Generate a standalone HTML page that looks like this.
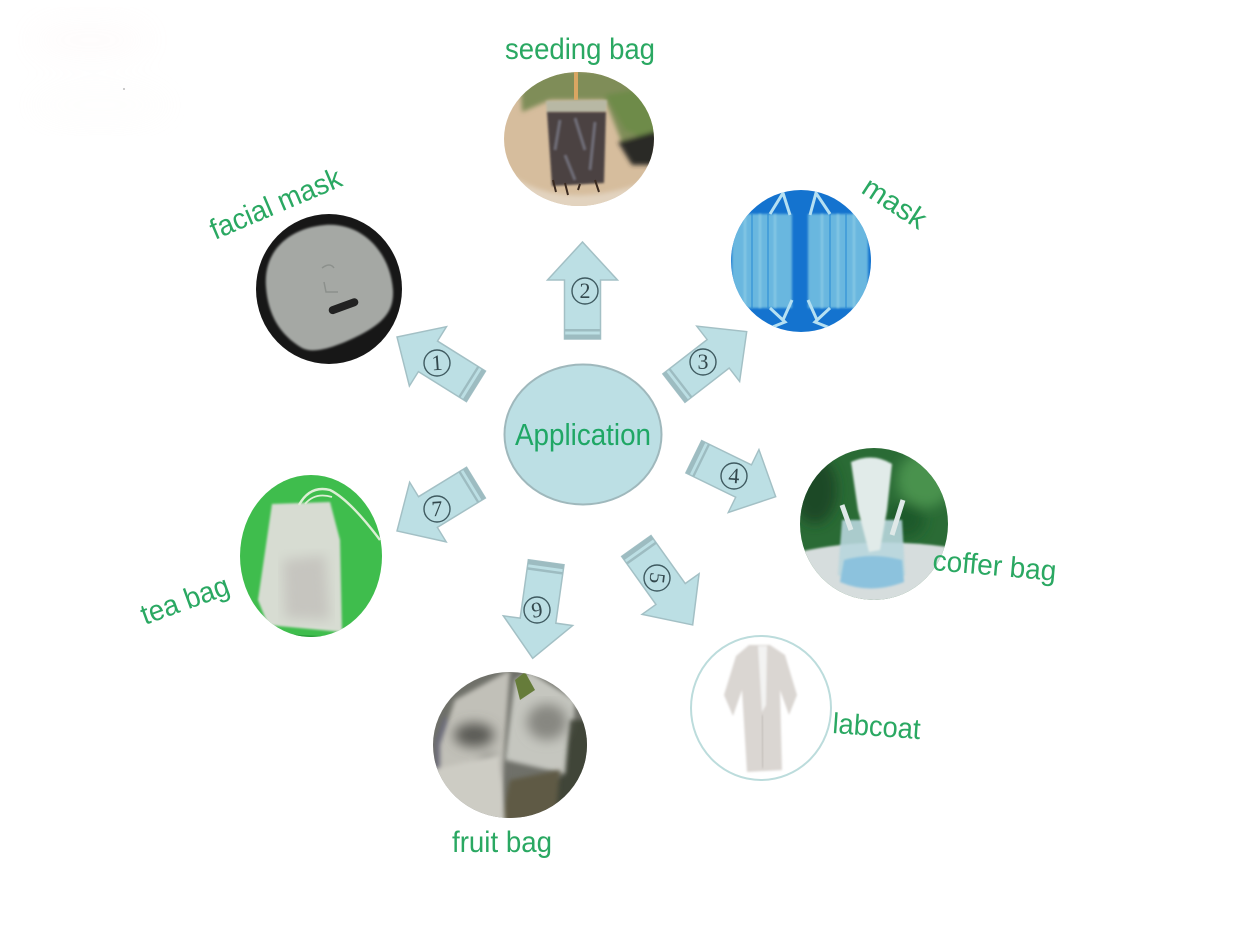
<!DOCTYPE html>
<html><head><meta charset="utf-8"><style>
html,body{margin:0;padding:0;background:#fff;width:1240px;height:932px;overflow:hidden}
svg{display:block}
.l{font-family:"Liberation Sans",sans-serif;fill:#2aa862}
.n{font-family:"Liberation Serif",serif;font-size:22px;fill:#33484d;text-anchor:middle}
.c{fill:none;stroke:#3f5a60;stroke-width:1.4}
</style></head><body>
<svg width="1240" height="932" viewBox="0 0 1240 932" xmlns="http://www.w3.org/2000/svg">
<defs>
<filter id="b1"><feGaussianBlur stdDeviation="1"/></filter>
<filter id="b2"><feGaussianBlur stdDeviation="2.5"/></filter>
<filter id="b6"><feGaussianBlur stdDeviation="6"/></filter>
<filter id="b14"><feGaussianBlur stdDeviation="14"/></filter>
<clipPath id="cS"><ellipse cx="579" cy="139" rx="75" ry="67"/></clipPath>
<clipPath id="cF"><ellipse cx="329" cy="289" rx="73" ry="75"/></clipPath>
<clipPath id="cM"><ellipse cx="801" cy="261" rx="70" ry="71"/></clipPath>
<clipPath id="cC"><ellipse cx="874" cy="524" rx="74" ry="76"/></clipPath>
<clipPath id="cT"><ellipse cx="311" cy="556" rx="71" ry="81"/></clipPath>
<clipPath id="cR"><ellipse cx="510" cy="745" rx="77" ry="73"/></clipPath>
<g id="arrow">
<polygon points="0,0 35,38 18,38 18,97 -18,97 -18,38 -35,38" fill="#bcdfe4" stroke="#a3c0c5" stroke-width="1.5" stroke-linejoin="miter"/>
<rect x="-18" y="87" width="36" height="2.5" fill="#9dbcc1"/>
<rect x="-18" y="92.5" width="36" height="4.5" fill="#9dbcc1"/>
</g>
</defs>
<rect width="1240" height="932" fill="#fff"/>
<!-- faint smudge -->
<g filter="url(#b14)" opacity=".08">
<ellipse cx="90" cy="40" rx="60" ry="22" fill="#f8dcdc"/>
<ellipse cx="100" cy="105" rx="70" ry="20" fill="#f6f0ea"/>
</g>
<circle cx="124" cy="89" r="1" fill="#bbb"/>

<!-- arrows -->
<use href="#arrow" transform="translate(397,337) rotate(-58) scale(1,.96)"/>
<use href="#arrow" transform="translate(582.5,242)"/>
<use href="#arrow" transform="translate(746.7,331.7) rotate(52.2) scale(1,.95)"/>
<use href="#arrow" transform="translate(775.7,496.7) rotate(116) scale(1,.94)"/>
<use href="#arrow" transform="translate(670.6,594) rotate(144.5) translate(0,-38)"/>
<use href="#arrow" transform="translate(397,531) rotate(-121.5) scale(1,.955)"/>
<use href="#arrow" transform="translate(532.7,658.3) rotate(188)"/>

<!-- arrow numbers -->
<g>
<circle class="c" cx="437" cy="363" r="13"/><text class="n" x="437" y="370" transform="rotate(-4 437 363)">1</text>
<circle class="c" cx="585" cy="291" r="13"/><text class="n" x="585" y="298">2</text>
<circle class="c" cx="703" cy="362" r="13"/><text class="n" x="703" y="369">3</text>
<circle class="c" cx="734" cy="476" r="13"/><text class="n" x="734" y="483" transform="rotate(4 734 476)">4</text>
<circle class="c" cx="657" cy="578" r="13"/><text class="n" x="657" y="585" transform="rotate(97 657 578)">5</text>
<circle class="c" cx="437" cy="509" r="13"/><text class="n" x="437" y="516" transform="rotate(-4 437 509)">7</text>
<circle class="c" cx="537" cy="610" r="13"/><text class="n" x="537" y="617" transform="rotate(-8 537 610)">9</text>
</g>

<!-- centre -->
<ellipse cx="583" cy="434.5" rx="78.5" ry="70" fill="#bcdfe4" stroke="#9fb8bc" stroke-width="2"/>
<text class="l" x="515" y="445" font-size="31" textLength="136" lengthAdjust="spacingAndGlyphs" style="fill:#1fa765">Application</text>

<!-- seeding bag photo -->
<g clip-path="url(#cS)">
<rect x="500" y="70" width="160" height="140" fill="#d6bd9d"/>
<g filter="url(#b2)">
<path d="M520,70H660V165L625,150L605,100L550,100L522,112Z" fill="#7f8d58"/>
<path d="M605,95L660,85V145L625,130Z" fill="#6e8b4a"/>
<path d="M618,142L660,130V165L632,165Z" fill="#2a2a26"/>
<path d="M504,170Q560,215 650,180V210H504Z" fill="#e2d3bf"/>
</g>
<rect x="574" y="70" width="4" height="30" fill="#d9a662"/>
<path d="M546,101L607,100L606,112L547,113Z" fill="#b8b8a4" filter="url(#b1)"/>
<path d="M547,112L606,112L604,183L552,186Z" fill="#4c4342" filter="url(#b1)"/>
<g stroke="#8b8fa0" stroke-width="3" opacity=".6" filter="url(#b1)">
<path d="M560,120L555,150M575,118L585,150M595,122L590,170M565,155L575,180"/>
</g>
<g stroke="#3a2a20" stroke-width="2"><path d="M553,180L556,192M565,183L568,195M580,184L578,190M595,180L599,192"/></g>
</g>

<!-- facial mask photo -->
<g clip-path="url(#cF)">
<rect x="250" y="210" width="160" height="160" fill="#171717"/>
<path d="M266,287C263,250 290,228 325,225C360,222 390,250 393,290C394,310 385,322 360,335C340,345 315,355 302,348C280,335 268,315 266,287Z" fill="#a5a8a4" filter="url(#b1)"/>
<path d="M322,268q8,-6 12,0M324,282l2,10h12" stroke="#8c908c" fill="none" stroke-width="1.5"/>
<rect x="328" y="302" width="31" height="8" rx="4" fill="#222" transform="rotate(-20 344 306)"/>
</g>

<!-- mask photo -->
<g clip-path="url(#cM)">
<rect x="725" y="185" width="155" height="155" fill="#1473cf"/>
<rect x="732" y="214" width="60" height="94" fill="#69b7df" filter="url(#b1)"/>
<rect x="808" y="214" width="60" height="94" fill="#69b7df" filter="url(#b1)"/>
<g stroke="#8ccbe6" stroke-width="2" filter="url(#b1)">
<path d="M745,214V308M760,214V308M775,214V308M822,214V308M838,214V308M854,214V308"/>
</g>
<g stroke="#2a8cd6" stroke-width="1.5" opacity=".7"><path d="M752,214V308M768,214V308M830,214V308M846,214V308"/></g>
<g fill="none" stroke="#b5e0f2" stroke-width="3">
<path d="M770,214L783,193L790,215M830,214L816,193L810,215M745,214L757,192M855,214L842,192"/>
<path d="M770,308L785,322L760,332M830,308L815,322L840,332M745,308L735,325M855,308L865,325M792,300L783,320M808,300L817,320"/>
</g>
</g>

<!-- coffer bag photo -->
<g clip-path="url(#cC)">
<rect x="795" y="445" width="160" height="160" fill="#2a6b35"/>
<g filter="url(#b6)">
<ellipse cx="815" cy="490" rx="22" ry="34" fill="#1c4a26"/>
<ellipse cx="925" cy="480" rx="28" ry="28" fill="#49924e"/>
<ellipse cx="905" cy="520" rx="20" ry="18" fill="#1f5a2c"/>
</g>
<path d="M795,553Q870,535 955,548V605H795Z" fill="#d6dddd" filter="url(#b1)"/>
<path d="M842,520L838,575Q870,590 905,575L902,520Z" fill="#b8d6dd" opacity=".9" filter="url(#b1)"/>
<path d="M844,560Q872,552 902,560L904,582Q870,595 840,582Z" fill="#8cc2dd" filter="url(#b1)"/>
<path d="M851,462Q873,452 892,464L887,510L880,550L869,552L858,510Z" fill="#e1ebe9" filter="url(#b1)"/>
<path d="M842,505L851,530M903,500L892,535" stroke="#dfe9e8" stroke-width="5" fill="none"/>
</g>

<!-- labcoat photo -->
<ellipse cx="761" cy="708" rx="70" ry="72" fill="#fff" stroke="#bcdcdc" stroke-width="2"/>
<g filter="url(#b1)">
<path d="M749,645L770,645L785,655L797,695L789,715L780,690L782,770L747,772L742,690L733,716L724,695L736,656Z" fill="#dad6d2"/>
<path d="M758,646H767L766,705L762,712Z" fill="#f3f3f2"/>
</g>
<path d="M762,715L763,768" stroke="#bdb8b3" stroke-width="1.5" filter="url(#b1)"/>

<!-- tea bag photo -->
<g clip-path="url(#cT)">
<rect x="235" y="472" width="155" height="170" fill="#3fbd4d"/>
<path d="M272,504L330,502L340,540L342,632L268,625L258,600Z" fill="#d7dcd2" filter="url(#b1)"/>
<path d="M283,560L325,555L330,620L285,618Z" fill="#c6c5bf" filter="url(#b6)"/>
<path d="M240,630Q285,635 345,637L340,645H240Z" fill="#2a9e3a"/>
<path d="M299,505Q310,485 330,490Q350,500 380,540" stroke="#dcefd4" stroke-width="2.4" fill="none"/>
<path d="M305,504Q315,492 332,497" stroke="#dcefd4" stroke-width="1.8" fill="none"/>
</g>

<!-- fruit bag photo -->
<g clip-path="url(#cR)">
<rect x="428" y="668" width="165" height="155" fill="#6f7069"/>
<path d="M435,740L445,715L455,735L450,775L435,770Z" fill="#6b6a78" filter="url(#b2)"/>
<path d="M455,700L510,670L505,740L500,810L440,790L440,745Z" fill="#c1c0b8" filter="url(#b2)"/>
<path d="M515,680L530,672L575,700L570,775L505,760Z" fill="#c5c6bf" filter="url(#b2)"/>
<path d="M570,720L592,720V790L550,820L530,790L565,775Z" fill="#3f4438" filter="url(#b2)"/>
<path d="M515,680L525,672L535,690L520,700Z" fill="#667c3a"/>
<g filter="url(#b6)">
<ellipse cx="474" cy="735" rx="20" ry="12" fill="#5a5a55"/>
<ellipse cx="547" cy="722" rx="20" ry="18" fill="#878781"/>
<ellipse cx="490" cy="770" rx="10" ry="14" fill="#7a7a75"/>
</g>
<path d="M510,780L560,770L555,825H500Z" fill="#5f5a45" filter="url(#b2)"/>
<path d="M430,770L500,755L505,825H440Z" fill="#cdccc4" filter="url(#b2)"/>
</g>

<!-- labels -->
<text class="l" x="505" y="59" font-size="30" textLength="150" lengthAdjust="spacingAndGlyphs">seeding bag</text>
<text class="l" font-size="29" textLength="140" lengthAdjust="spacingAndGlyphs" transform="translate(215,240) rotate(-23)">facial mask</text>
<text class="l" font-size="29" textLength="70" lengthAdjust="spacingAndGlyphs" transform="translate(860,192) rotate(33)">mask</text>
<text class="l" font-size="29" textLength="124" lengthAdjust="spacingAndGlyphs" transform="translate(932,570) rotate(5)">coffer bag</text>
<text class="l" font-size="29" textLength="88" lengthAdjust="spacingAndGlyphs" transform="translate(832,733) rotate(4)">labcoat</text>
<text class="l" font-size="29" textLength="92" lengthAdjust="spacingAndGlyphs" transform="translate(145,625) rotate(-20)">tea bag</text>
<text class="l" x="452" y="852" font-size="30" textLength="100" lengthAdjust="spacingAndGlyphs">fruit bag</text>
</svg>
</body></html>
